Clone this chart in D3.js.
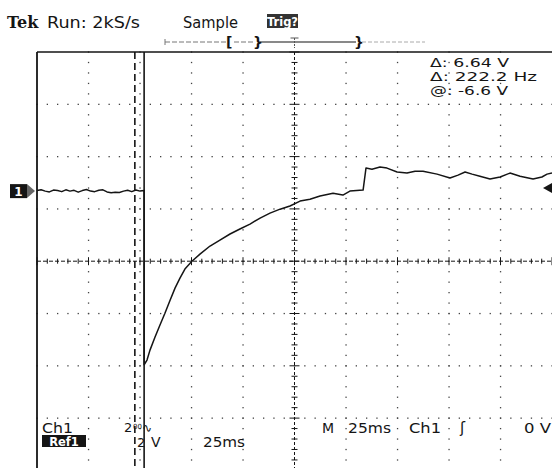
<!DOCTYPE html>
<html><head><meta charset="utf-8">
<script src="https://cdn.jsdelivr.net/npm/d3@7/dist/d3.min.js"></script>
<style>html,body{margin:0;padding:0;background:#fff}svg{display:block}</style>
</head><body>
<svg id="c" width="552" height="468"></svg>
<script>
// ---- data ----
const timeMs = [0,2,4,6,8,10,12,14,16,18,20,22,24,26,28,30,32,34,36,38,40,42,44,46,48,50,52,
  52,53.4,54.85,57.3,59.7,62.1,64.6,67.0,69.4,71.8,75.2,79.1,84.0,88.8,93.7,98.5,103.4,108.3,113.1,118.0,122.8,
  127.7,132.5,137.4,143.7,148.5,151.9,158.3,159.7,162.6,166.5,169.9,174.8,179.6,183.5,187.4,194.2,200.5,204.4,
  207.8,211.2,215.0,219.9,224.8,229.6,234.5,240.8,245.1,247.6,250];
const volts = [0.02,0.05,0,-0.03,0.04,0.02,-0.02,0.05,0.0,0.03,-0.04,0.02,0.06,0.0,-0.02,0.03,0.05,-0.03,-0.06,-0.04,-0.05,0.0,0.03,-0.02,0.04,0.0,0.02,
  -6.64,-6.46,-6.08,-5.58,-5.12,-4.67,-4.17,-3.71,-3.33,-2.98,-2.68,-2.41,-2.10,-1.87,-1.64,-1.45,-1.26,-1.03,-0.84,-0.69,-0.57,
  -0.38,-0.31,-0.19,-0.08,-0.15,0.0,0.04,0.88,0.84,0.92,0.88,0.73,0.69,0.76,0.76,0.65,0.50,0.61,
  0.73,0.65,0.57,0.46,0.54,0.69,0.57,0.46,0.54,0.65,0.69];
const cursorTimes = [47.5, 52.0];
const readout = ["\u0394: 6.64 V", "\u0394: 222.2 Hz", "@: -6.6 V"];
const readoutWidths = [79, 107, 78];
const msPerDiv = 25, voltsPerDiv = 2, groundDiv = 2.66; // ground position in divisions from top

// ---- geometry ----
const svg = d3.select("#c");
const gx = d3.scaleLinear().domain([0,10]).range([37,552]);
const gy = d3.scaleLinear().domain([0,8]).range([52,470.4]);
const x = d3.scaleLinear().domain([0,10*msPerDiv]).range([gx(0),gx(10)]);
const y = d3.scaleLinear().domain([0,-voltsPerDiv]).range([gy(groundDiv),gy(groundDiv+1)]);
const ink = "#151515";
const font = "'DejaVu Sans', sans-serif";

// grid dots
const g = svg.append("g");
for (let i=1;i<10;i++){ if(i===5) continue;
  for (let k=0;k<=40;k++){ g.append("rect").attr("x",gx(i)-0.6).attr("y",gy(k*0.2)-0.6).attr("width",1.3).attr("height",1.3).attr("fill","#444"); }
}
for (let j=1;j<8;j++){ if(j===4) continue;
  for (let k=0;k<=50;k++){ g.append("rect").attr("x",gx(k*0.2)-0.6).attr("y",gy(j)-0.6).attr("width",1.3).attr("height",1.3).attr("fill","#444"); }
}
// center axes with ticks
g.append("line").attr("x1",gx(0)).attr("x2",gx(10)).attr("y1",gy(4)).attr("y2",gy(4))
  .attr("stroke",ink).attr("stroke-width",1).attr("stroke-dasharray","4,2");
g.append("line").attr("x1",gx(5)).attr("x2",gx(5)).attr("y1",gy(0)).attr("y2",gy(8))
  .attr("stroke",ink).attr("stroke-width",1).attr("stroke-dasharray","3,2");
for (let k=0;k<=50;k++){ const L = (k%5===0)?4:2.5;
  g.append("line").attr("x1",gx(k*0.2)).attr("x2",gx(k*0.2)).attr("y1",gy(4)-L).attr("y2",gy(4)+L).attr("stroke",ink).attr("stroke-width",1);
}
for (let k=0;k<=40;k++){ const L = (k%5===0)?5:3;
  g.append("line").attr("y1",gy(k*0.2)).attr("y2",gy(k*0.2)).attr("x1",gx(5)-L).attr("x2",gx(5)+L).attr("stroke",ink).attr("stroke-width",1);
}
// frame
g.append("line").attr("x1",gx(0)).attr("x2",gx(0)).attr("y1",gy(0)).attr("y2",468).attr("stroke",ink).attr("stroke-width",1.8);
g.append("line").attr("x1",gx(0)).attr("x2",gx(10)).attr("y1",gy(0)).attr("y2",gy(0)).attr("stroke",ink).attr("stroke-width",1.5);

// cursors
g.append("line").attr("x1",x(cursorTimes[0])).attr("x2",x(cursorTimes[0])).attr("y1",gy(0)).attr("y2",468)
  .attr("stroke",ink).attr("stroke-width",1.6).attr("stroke-dasharray","7,4");
g.append("line").attr("x1",x(cursorTimes[1])).attr("x2",x(cursorTimes[1])).attr("y1",gy(0)).attr("y2",468)
  .attr("stroke",ink).attr("stroke-width",1.6);

// trace
const line = d3.line().x((d,i)=>x(timeMs[i])).y((d,i)=>y(volts[i]));
svg.append("path").attr("d",line(volts)).attr("fill","none").attr("stroke",ink).attr("stroke-width",1.5).attr("stroke-linejoin","round");

// ground marker "1"
svg.append("rect").attr("x",10).attr("y",y(0)-7).attr("width",17).attr("height",14).attr("fill",ink);
svg.append("text").attr("x",18.5).attr("y",y(0)+5).attr("text-anchor","middle").attr("font-family",font).attr("font-size",12).attr("font-weight","bold").attr("fill","#fff").text("1");
svg.append("path").attr("d",`M27,${y(0)-7}L35,${y(0)}L27,${y(0)+7}Z`).attr("fill","#666");
// trigger level marker right
const tyy = 188;
svg.append("path").attr("d",`M543,${tyy}L552,${tyy-5}L552,${tyy+5}Z`).attr("fill",ink);

// header
svg.append("text").attr("x",7).attr("y",28).attr("font-family","'DejaVu Serif', serif").attr("font-size",16).attr("font-weight","bold").attr("fill",ink).text("Tek");
svg.append("text").attr("x",47).attr("y",28).attr("font-family",font).attr("font-size",15).attr("fill",ink).attr("textLength",93).attr("lengthAdjust","spacingAndGlyphs").text("Run: 2kS/s");
svg.append("text").attr("x",183).attr("y",28).attr("font-family",font).attr("font-size",15).attr("fill",ink).attr("textLength",55).attr("lengthAdjust","spacingAndGlyphs").text("Sample");
svg.append("rect").attr("x",267).attr("y",14).attr("width",31).attr("height",14).attr("fill","#333");
svg.append("text").attr("x",282.5).attr("y",26).attr("text-anchor","middle").attr("font-family",font).attr("font-size",11.5).attr("font-weight","bold").attr("fill","#fff").text("Trig?");
// record bar
const rb = 42;
svg.append("line").attr("x1",165).attr("x2",229).attr("y1",rb).attr("y2",rb).attr("stroke","#777").attr("stroke-dasharray","5,2");
svg.append("line").attr("x1",165).attr("x2",165).attr("y1",rb-3).attr("y2",rb+3).attr("stroke","#777");
svg.append("text").attr("x",226).attr("y",rb+5).attr("font-family",font).attr("font-size",14).attr("font-weight","bold").attr("fill",ink).text("[");
svg.append("line").attr("x1",234).attr("x2",254).attr("y1",rb).attr("y2",rb).attr("stroke","#777").attr("stroke-dasharray","5,2");
svg.append("text").attr("x",253).attr("y",rb+5).attr("font-family",font).attr("font-size",14).attr("font-weight","bold").attr("fill",ink).text("}");
svg.append("line").attr("x1",260).attr("x2",356).attr("y1",rb).attr("y2",rb).attr("stroke",ink).attr("stroke-width",1.2);
svg.append("line").attr("x1",gx(5)).attr("x2",gx(5)).attr("y1",rb-4).attr("y2",rb+6).attr("stroke","#555").attr("stroke-dasharray","2,1");
svg.append("line").attr("x1",gx(5)-4).attr("x2",gx(5)+4).attr("y1",rb-4).attr("y2",rb-4).attr("stroke","#555");
svg.append("text").attr("x",354).attr("y",rb+5).attr("font-family",font).attr("font-size",14).attr("font-weight","bold").attr("fill",ink).text("}");
svg.append("line").attr("x1",362).attr("x2",425).attr("y1",rb).attr("y2",rb).attr("stroke","#aaa").attr("stroke-dasharray","4,2");

// readout
readout.forEach((t,i)=>{
  svg.append("text").attr("x",430).attr("y",67+i*14).attr("font-family",font).attr("font-size",12.5)
    .attr("textLength",readoutWidths[i]).attr("lengthAdjust","spacingAndGlyphs").attr("fill",ink).text(t);
});

// bottom readouts
const bt = (xx,yy,t,fs=14,w=null)=>{ const s = svg.append("text").attr("x",xx).attr("y",yy).attr("font-family",font).attr("font-size",fs).attr("fill",ink).text(t);
  if (w) s.attr("textLength",w).attr("lengthAdjust","spacingAndGlyphs"); return s; };
bt(42,433,"Ch1",14,31);
svg.append("rect").attr("x",42).attr("y",435).attr("width",44).attr("height",12).attr("fill",ink);
svg.append("text").attr("x",64).attr("y",445.5).attr("text-anchor","middle").attr("font-family",font).attr("font-size",11.5).attr("font-weight","bold").attr("fill","#fff").text("Ref1");
bt(124,432,"2",13); bt(133,429,"00",7); bt(142,432,"\u223F",12);
bt(137,447,"2",13); bt(151,447,"V",14);
bt(203,447,"25ms",14,42);
bt(322,433,"M",14); bt(348,433,"25ms",14,43); bt(409,433,"Ch1",14,32);
bt(460,433,"\u0283",15); bt(524,433,"0 V",14,27);
</script>
</body></html>
